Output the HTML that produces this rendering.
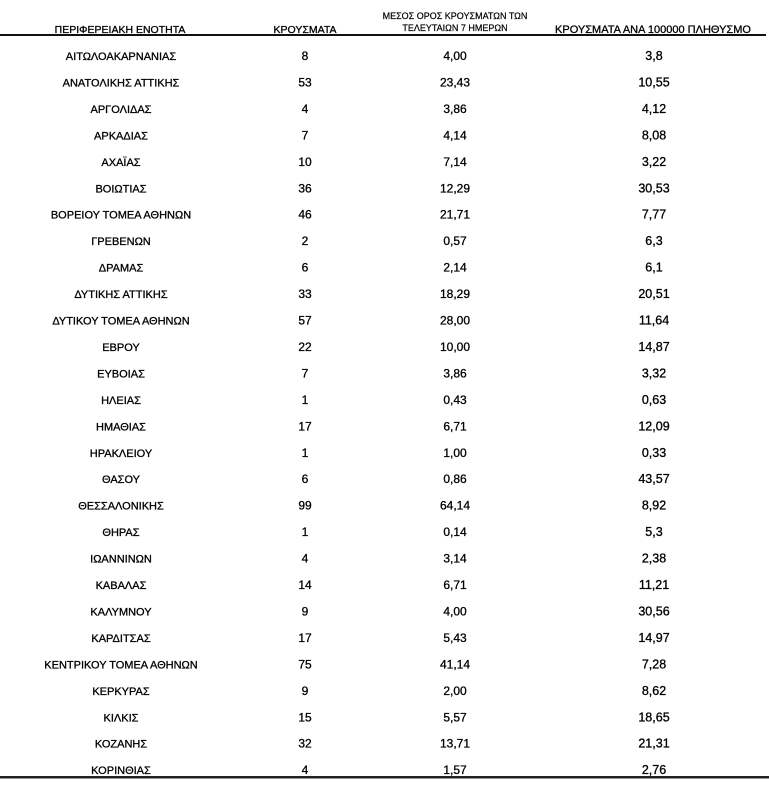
<!DOCTYPE html>
<html>
<head>
<meta charset="utf-8">
<style>
  html, body { margin:0; padding:0; background:#fff; }
  svg { display:block; }
  text { font-family: "Liberation Sans", "DejaVu Sans", sans-serif; fill:#000; stroke:#000; stroke-width:0.3px; }
</style>
</head>
<body>
<svg width="769" height="785" viewBox="0 0 769 785" xmlns="http://www.w3.org/2000/svg">
  <rect width="769" height="785" fill="#fff"/>
  <!-- headers -->
  <g text-anchor="middle">
    <text x="120" y="33" font-size="10.5">ΠΕΡΙΦΕΡΕΙΑΚΗ ΕΝΟΤΗΤΑ</text>
    <text x="305" y="33" font-size="10.5">ΚΡΟΥΣΜΑΤΑ</text>
    <text x="455" y="19" font-size="9" style="stroke-width:0.2px">ΜΕΣΟΣ ΟΡΟΣ ΚΡΟΥΣΜΑΤΩΝ ΤΩΝ</text>
    <text x="455" y="31" font-size="9" style="stroke-width:0.2px">ΤΕΛΕΥΤΑΙΩΝ 7 ΗΜΕΡΩΝ</text>
    <text x="653" y="33" font-size="11">ΚΡΟΥΣΜΑΤΑ ΑΝΑ 100000 ΠΛΗΘΥΣΜΟ</text>
  </g>
  <rect x="0" y="34" width="766" height="2" fill="#111"/>
  <rect x="0" y="776" width="769" height="2.5" fill="#222"/>

  <g text-anchor="middle" font-size="11">
    <!-- col 1 -->
    <g>
      <text x="121" y="60">ΑΙΤΩΛΟΑΚΑΡΝΑΝΙΑΣ</text>
      <text x="121" y="86.45">ΑΝΑΤΟΛΙΚΗΣ ΑΤΤΙΚΗΣ</text>
      <text x="121" y="112.9">ΑΡΓΟΛΙΔΑΣ</text>
      <text x="121" y="139.35">ΑΡΚΑΔΙΑΣ</text>
      <text x="121" y="165.8">ΑΧΑΪΑΣ</text>
      <text x="121" y="192.25">ΒΟΙΩΤΙΑΣ</text>
      <text x="121" y="218.7">ΒΟΡΕΙΟΥ ΤΟΜΕΑ ΑΘΗΝΩΝ</text>
      <text x="121" y="245.15">ΓΡΕΒΕΝΩΝ</text>
      <text x="121" y="271.6">ΔΡΑΜΑΣ</text>
      <text x="121" y="298.05">ΔΥΤΙΚΗΣ ΑΤΤΙΚΗΣ</text>
      <text x="121" y="324.5">ΔΥΤΙΚΟΥ ΤΟΜΕΑ ΑΘΗΝΩΝ</text>
      <text x="121" y="350.95">ΕΒΡΟΥ</text>
      <text x="121" y="377.4">ΕΥΒΟΙΑΣ</text>
      <text x="121" y="403.85">ΗΛΕΙΑΣ</text>
      <text x="121" y="430.3">ΗΜΑΘΙΑΣ</text>
      <text x="121" y="456.75">ΗΡΑΚΛΕΙΟΥ</text>
      <text x="121" y="483.2">ΘΑΣΟΥ</text>
      <text x="121" y="509.65">ΘΕΣΣΑΛΟΝΙΚΗΣ</text>
      <text x="121" y="536.1">ΘΗΡΑΣ</text>
      <text x="121" y="562.55">ΙΩΑΝΝΙΝΩΝ</text>
      <text x="121" y="589">ΚΑΒΑΛΑΣ</text>
      <text x="121" y="615.45">ΚΑΛΥΜΝΟΥ</text>
      <text x="121" y="641.9">ΚΑΡΔΙΤΣΑΣ</text>
      <text x="121" y="668.35">ΚΕΝΤΡΙΚΟΥ ΤΟΜΕΑ ΑΘΗΝΩΝ</text>
      <text x="121" y="694.8">ΚΕΡΚΥΡΑΣ</text>
      <text x="121" y="721.25">ΚΙΛΚΙΣ</text>
      <text x="121" y="747.7">ΚΟΖΑΝΗΣ</text>
      <text x="121" y="774.15">ΚΟΡΙΝΘΙΑΣ</text>
    </g>
    <!-- col 2 -->
    <g font-size="12">
      <text x="305" y="60">8</text>
      <text x="305" y="86.45">53</text>
      <text x="305" y="112.9">4</text>
      <text x="305" y="139.35">7</text>
      <text x="305" y="165.8">10</text>
      <text x="305" y="192.25">36</text>
      <text x="305" y="218.7">46</text>
      <text x="305" y="245.15">2</text>
      <text x="305" y="271.6">6</text>
      <text x="305" y="298.05">33</text>
      <text x="305" y="324.5">57</text>
      <text x="305" y="350.95">22</text>
      <text x="305" y="377.4">7</text>
      <text x="305" y="403.85">1</text>
      <text x="305" y="430.3">17</text>
      <text x="305" y="456.75">1</text>
      <text x="305" y="483.2">6</text>
      <text x="305" y="509.65">99</text>
      <text x="305" y="536.1">1</text>
      <text x="305" y="562.55">4</text>
      <text x="305" y="589">14</text>
      <text x="305" y="615.45">9</text>
      <text x="305" y="641.9">17</text>
      <text x="305" y="668.35">75</text>
      <text x="305" y="694.8">9</text>
      <text x="305" y="721.25">15</text>
      <text x="305" y="747.7">32</text>
      <text x="305" y="774.15">4</text>
    </g>
    <!-- col 3 -->
    <g font-size="12">
      <text x="455" y="60">4,00</text>
      <text x="455" y="86.45">23,43</text>
      <text x="455" y="112.9">3,86</text>
      <text x="455" y="139.35">4,14</text>
      <text x="455" y="165.8">7,14</text>
      <text x="455" y="192.25">12,29</text>
      <text x="455" y="218.7">21,71</text>
      <text x="455" y="245.15">0,57</text>
      <text x="455" y="271.6">2,14</text>
      <text x="455" y="298.05">18,29</text>
      <text x="455" y="324.5">28,00</text>
      <text x="455" y="350.95">10,00</text>
      <text x="455" y="377.4">3,86</text>
      <text x="455" y="403.85">0,43</text>
      <text x="455" y="430.3">6,71</text>
      <text x="455" y="456.75">1,00</text>
      <text x="455" y="483.2">0,86</text>
      <text x="455" y="509.65">64,14</text>
      <text x="455" y="536.1">0,14</text>
      <text x="455" y="562.55">3,14</text>
      <text x="455" y="589">6,71</text>
      <text x="455" y="615.45">4,00</text>
      <text x="455" y="641.9">5,43</text>
      <text x="455" y="668.35">41,14</text>
      <text x="455" y="694.8">2,00</text>
      <text x="455" y="721.25">5,57</text>
      <text x="455" y="747.7">13,71</text>
      <text x="455" y="774.15">1,57</text>
    </g>
    <!-- col 4 -->
    <g font-size="12.5">
      <text x="654" y="60">3,8</text>
      <text x="654" y="86.45">10,55</text>
      <text x="654" y="112.9">4,12</text>
      <text x="654" y="139.35">8,08</text>
      <text x="654" y="165.8">3,22</text>
      <text x="654" y="192.25">30,53</text>
      <text x="654" y="218.7">7,77</text>
      <text x="654" y="245.15">6,3</text>
      <text x="654" y="271.6">6,1</text>
      <text x="654" y="298.05">20,51</text>
      <text x="654" y="324.5">11,64</text>
      <text x="654" y="350.95">14,87</text>
      <text x="654" y="377.4">3,32</text>
      <text x="654" y="403.85">0,63</text>
      <text x="654" y="430.3">12,09</text>
      <text x="654" y="456.75">0,33</text>
      <text x="654" y="483.2">43,57</text>
      <text x="654" y="509.65">8,92</text>
      <text x="654" y="536.1">5,3</text>
      <text x="654" y="562.55">2,38</text>
      <text x="654" y="589">11,21</text>
      <text x="654" y="615.45">30,56</text>
      <text x="654" y="641.9">14,97</text>
      <text x="654" y="668.35">7,28</text>
      <text x="654" y="694.8">8,62</text>
      <text x="654" y="721.25">18,65</text>
      <text x="654" y="747.7">21,31</text>
      <text x="654" y="774.15">2,76</text>
    </g>
  </g>
</svg>
</body>
</html>
